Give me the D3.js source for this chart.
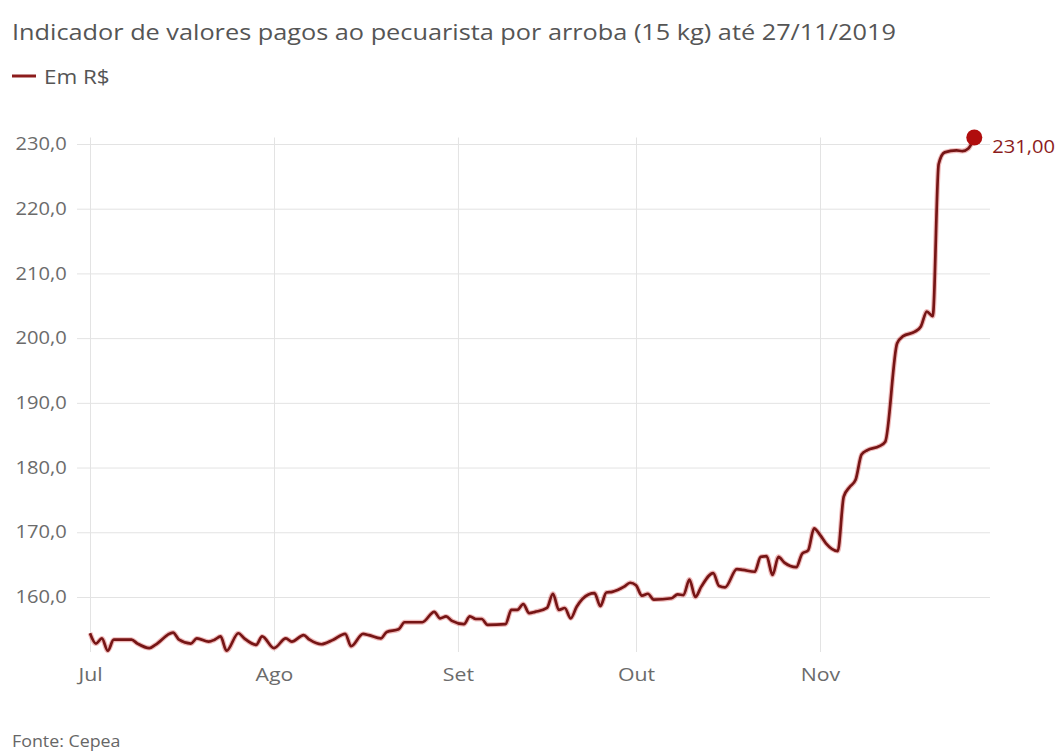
<!DOCTYPE html>
<html>
<head>
<meta charset="utf-8">
<script src="https://cdn.jsdelivr.net/npm/d3@7"></script>
<style>
  html, body { margin: 0; padding: 0; background: #fff; }
  svg { display: block; font-family: "Open Sans", "Noto Sans", sans-serif; }
</style>
</head>
<body>
<svg id="chart" width="1059" height="751"></svg>
<script>
// Cepea indicator, R$ per arroba (15 kg), Jul 1 – Nov 27, 2019
const dates = [
  "2019-07-01","2019-07-02","2019-07-03","2019-07-04","2019-07-05","2019-07-08","2019-07-09","2019-07-11",
  "2019-07-12","2019-07-15","2019-07-16","2019-07-18","2019-07-19","2019-07-21","2019-07-22","2019-07-23",
  "2019-07-24","2019-07-26","2019-07-27","2019-07-29","2019-07-30","2019-08-01","2019-08-03","2019-08-04",
  "2019-08-06","2019-08-07","2019-08-09","2019-08-11","2019-08-13","2019-08-14","2019-08-16","2019-08-17",
  "2019-08-19","2019-08-20","2019-08-22","2019-08-23","2019-08-26","2019-08-28","2019-08-29","2019-08-30",
  "2019-08-31","2019-09-02","2019-09-03","2019-09-04","2019-09-05","2019-09-06","2019-09-09","2019-09-10",
  "2019-09-11","2019-09-12","2019-09-13","2019-09-14","2019-09-16","2019-09-17","2019-09-18","2019-09-19",
  "2019-09-20","2019-09-21","2019-09-23","2019-09-24","2019-09-25","2019-09-26","2019-09-27","2019-09-29",
  "2019-09-30","2019-10-01","2019-10-02","2019-10-03","2019-10-04","2019-10-07","2019-10-08","2019-10-09",
  "2019-10-10","2019-10-11","2019-10-12","2019-10-14","2019-10-15","2019-10-16","2019-10-18","2019-10-19",
  "2019-10-21","2019-10-22","2019-10-23","2019-10-24","2019-10-25","2019-10-26","2019-10-28","2019-10-29",
  "2019-10-30","2019-10-31","2019-11-01","2019-11-02","2019-11-04","2019-11-05","2019-11-06","2019-11-07",
  "2019-11-08","2019-11-09","2019-11-11","2019-11-12","2019-11-14","2019-11-15","2019-11-17","2019-11-18",
  "2019-11-19","2019-11-20","2019-11-21","2019-11-22","2019-11-24","2019-11-25","2019-11-26","2019-11-27"
];
const values = [
  154.4,152.8,153.6,151.7,153.4,153.4,152.8,152.1,
  152.6,154.5,153.4,152.8,153.6,153.1,153.4,153.9,
  151.7,154.4,153.6,152.6,153.9,152.1,153.6,153.1,
  154.1,153.4,152.7,153.4,154.3,152.4,154.3,154.1,
  153.6,154.6,155.0,156.1,156.1,157.7,156.7,157.0,
  156.3,155.8,157.0,156.6,156.6,155.7,155.8,158.0,
  158.0,158.9,157.5,157.7,158.3,160.5,158.0,158.3,
  156.7,158.5,160.4,160.6,158.6,160.7,160.8,161.6,
  162.2,161.8,160.2,160.5,159.6,159.8,160.4,160.3,
  162.7,160.0,161.6,163.7,161.7,161.5,164.3,164.2,
  163.9,166.2,166.3,163.4,166.2,165.3,164.6,166.7,
  167.2,170.6,169.6,168.3,167.1,175.5,177.0,178.1,
  182.0,182.7,183.3,184.0,199.2,200.3,201.0,201.8,
  204.1,203.4,226.9,228.7,229.0,228.9,229.3,231.0
];
const yTicks = [160, 170, 180, 190, 200, 210, 220, 230];
const monthTicks = ["2019-07-01","2019-08-01","2019-09-01","2019-10-01","2019-11-01"];
const monthLabels = ["Jul","Ago","Set","Out","Nov"];

const titleText = "Indicador de valores pagos ao pecuarista por arroba (15 kg) até 27/11/2019";
const legendText = "Em R$";
const sourceText = "Fonte: Cepea";

const parse = d3.utcParse("%Y-%m-%d");
const data = dates.map((d, i) => ({ date: parse(d), value: values[i] }));

const ptBR = d3.formatLocale({ decimal: ",", thousands: ".", grouping: [3], currency: ["R$", ""] });
const fmtTick = ptBR.format(".1f");
const fmtLast = ptBR.format(".2f");

// text in this chart is set slightly wide
const stretch = 1.15;

const svg = d3.select("#chart");

// plot frame
const plotLeft = 77, plotRight = 990, plotTop = 137.5, plotBottom = 652;

const x = d3.scaleUtc()
  .domain([parse(dates[0]), parse(dates[dates.length - 1])])
  .range([90, 974.3]);

const y = d3.scaleLinear()
  .domain([151.5, 231])
  .range([plotBottom, plotTop]);

// horizontal grid + y labels
const yAxis = d3.axisLeft(y)
  .tickValues(yTicks)
  .tickFormat(fmtTick)
  .tickSize(-(plotRight - plotLeft))
  .tickPadding(9);

const gy = svg.append("g")
  .attr("transform", `translate(${plotLeft},0)`)
  .call(yAxis);
gy.select(".domain").remove();
gy.selectAll(".tick line").attr("stroke", "#e3e3e3").attr("stroke-width", 1);
gy.selectAll(".tick text")
  .attr("fill", "#6b6b6b")
  .attr("font-size", 17.5)
  .attr("font-family", "Open Sans, sans-serif")
  .attr("transform", `scale(${stretch},1)`);

// vertical grid + month labels
const xAxis = d3.axisBottom(x)
  .tickValues(monthTicks.map(parse))
  .tickFormat((d, i) => monthLabels[i])
  .tickSize(-(plotBottom - plotTop))
  .tickPadding(16);

const gx = svg.append("g")
  .attr("transform", `translate(0,${plotBottom})`)
  .call(xAxis);
gx.select(".domain").remove();
gx.selectAll(".tick line").attr("stroke", "#e3e3e3").attr("stroke-width", 1);
gx.selectAll(".tick text")
  .attr("fill", "#6b6b6b")
  .attr("font-size", 18.5)
  .attr("font-family", "Open Sans, sans-serif")
  .attr("transform", `scale(${stretch},1)`);

// price line
const line = d3.line()
  .x(d => x(d.date))
  .y(d => y(d.value))
  .curve(d3.curveMonotoneX);

svg.append("path")
  .datum(data)
  .attr("fill", "none")
  .attr("stroke", "#d23a3a")
  .attr("stroke-opacity", 0.35)
  .attr("stroke-width", 5)
  .attr("stroke-linejoin", "round")
  .attr("d", line);

svg.append("path")
  .datum(data)
  .attr("fill", "none")
  .attr("stroke", "#761515")
  .attr("stroke-width", 2.7)
  .attr("stroke-linejoin", "round")
  .attr("d", line);

// last value marker
const last = data[data.length - 1];
svg.append("circle")
  .attr("cx", x(last.date))
  .attr("cy", y(last.value))
  .attr("r", 8)
  .attr("fill", "#b00d0d");

function stretchedText(px, py, size, fill, str) {
  return svg.append("text")
    .attr("transform", `translate(${px},${py}) scale(${stretch},1)`)
    .attr("fill", fill)
    .attr("font-size", size)
    .text(str);
}

stretchedText(x(last.date) + 18, y(last.value) + 15, 17.5, "#8c1c1c", fmtLast(last.value));

// title
stretchedText(12, 40, 22, "#555", titleText);

// legend
svg.append("line")
  .attr("x1", 12).attr("x2", 36)
  .attr("y1", 76).attr("y2", 76)
  .attr("stroke", "#8c1c1c")
  .attr("stroke-width", 3);
stretchedText(44, 84, 19.5, "#555", legendText);

// source
stretchedText(12, 747, 15.5, "#666", sourceText);
</script>
</body>
</html>
